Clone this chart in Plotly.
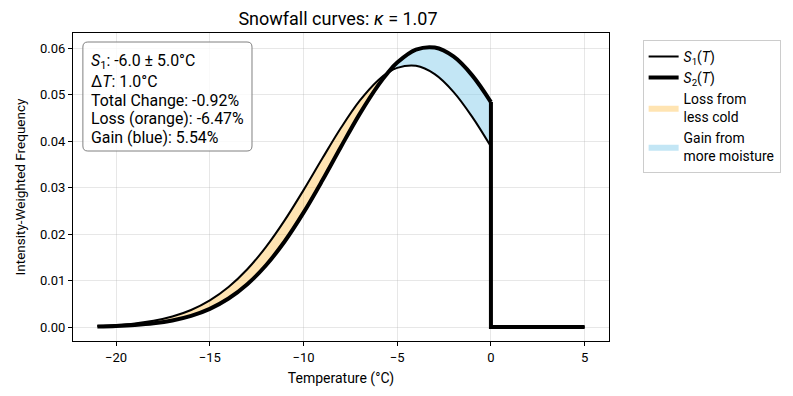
import plotly.graph_objects as go

# ---- data ----
temps = [-21, -20, -19, -18, -17, -16, -15, -14, -13, -12, -11, -10, -9, -8, -7, -6,
         -5.5, -5, -4, -3, -2, -1, 0]
s1_vals = [0.000214, 0.000409, 0.000751, 0.001325, 0.002246, 0.003658, 0.005723,
           0.008603, 0.012426, 0.017244, 0.022991, 0.029453, 0.036250, 0.042867,
           0.048704, 0.053166, 0.054722, 0.055761, 0.056189, 0.054402, 0.050605,
           0.045228, 0.038837]
s2_vals = [0.000115, 0.000229, 0.000438, 0.000804, 0.001418, 0.002403, 0.003914,
           0.006124, 0.009206, 0.013296, 0.018451, 0.024601, 0.031514, 0.038787,
           0.045867, 0.052113, 0.054722, 0.056888, 0.059664, 0.060123, 0.058209,
           0.054147, 0.048394]
crossing_temp = -5.5
warm_temps = [0, 5]          # above freezing: no snowfall
warm_vals = [0, 0]
x_ticks = [-20, -15, -10, -5, 0, 5]
y_ticks = [0.00, 0.01, 0.02, 0.03, 0.04, 0.05, 0.06]
stats_lines = ["<i>S</i><sub>1</sub>: -6.0 ± 5.0°C", "Δ<i>T</i>: 1.0°C",
               "Total Change: -0.92%", "Loss (orange): -6.47%", "Gain (blue): 5.54%"]

FONT = "Roboto, 'DejaVu Sans', sans-serif"

# page body has an 8px default margin -> shrink figure accordingly
OFF = 8
W, H = 793 - OFF, 396 - OFF
PL, PR, PT, PB = 67, 609, 33, 341          # plot area in screen pixels


def px_x(p):
    return (p - PL) / (PR - PL)


def px_y(p):
    return (PB - p) / (PB - PT)


loss_idx = [i for i, t in enumerate(temps) if t <= crossing_temp]
gain_idx = [i for i, t in enumerate(temps) if t >= crossing_temp]

fig = go.Figure()

# orange (loss) region: between S2 (lower) and S1 (upper)
fig.add_trace(go.Scatter(x=[temps[i] for i in loss_idx], y=[s2_vals[i] for i in loss_idx],
                         mode="lines", line=dict(width=0, shape="spline"),
                         showlegend=False, hoverinfo="skip"))
fig.add_trace(go.Scatter(x=[temps[i] for i in loss_idx], y=[s1_vals[i] for i in loss_idx],
                         mode="lines", line=dict(width=0, shape="spline"),
                         fill="tonexty", fillcolor="rgba(255,165,0,0.3)",
                         name="Loss from<br>less cold", legendrank=3, hoverinfo="skip"))
# blue (gain) region
fig.add_trace(go.Scatter(x=[temps[i] for i in gain_idx], y=[s1_vals[i] for i in gain_idx],
                         mode="lines", line=dict(width=0, shape="spline"),
                         showlegend=False, hoverinfo="skip"))
fig.add_trace(go.Scatter(x=[temps[i] for i in gain_idx], y=[s2_vals[i] for i in gain_idx],
                         mode="lines", line=dict(width=0, shape="spline"),
                         fill="tonexty", fillcolor="rgba(135,206,235,0.5)",
                         name="Gain from<br>more moisture", legendrank=4, hoverinfo="skip"))

# S1 curve
fig.add_trace(go.Scatter(x=temps, y=s1_vals, mode="lines",
                         line=dict(color="black", width=2, shape="spline"),
                         name="<i>S</i><sub>1</sub>(<i>T</i>)", legendrank=1))
fig.add_trace(go.Scatter(x=[temps[-1]] + warm_temps, y=[s1_vals[-1]] + warm_vals, mode="lines",
                         line=dict(color="black", width=2), showlegend=False))
# S2 curve
fig.add_trace(go.Scatter(x=temps, y=s2_vals, mode="lines",
                         line=dict(color="black", width=4, shape="spline"),
                         name="<i>S</i><sub>2</sub>(<i>T</i>)", legendrank=2))
fig.add_trace(go.Scatter(x=[temps[-1]] + warm_temps, y=[s2_vals[-1]] + warm_vals, mode="lines",
                         line=dict(color="black", width=4), showlegend=False))

axis_common = dict(showline=True, linecolor="black", linewidth=1, mirror=True,
                   ticks="outside", ticklen=4, tickcolor="black",
                   showgrid=True, gridcolor="rgba(176,176,176,0.3)", gridwidth=1,
                   zeroline=False, tickfont=dict(family=FONT, size=13, color="black"))

fig.update_layout(
    width=W, height=H,
    margin=dict(l=PL - OFF, r=W - (PR - OFF), t=PT - OFF, b=H - (PB - OFF)),
    paper_bgcolor="white", plot_bgcolor="white",
    font=dict(family=FONT, color="black"),
    title=dict(text="Snowfall curves: <i>κ</i> = 1.07", x=((PL + PR) / 2 - OFF) / W, xanchor="center",
               y=1 - (18.5 - OFF) / H, yanchor="middle", font=dict(family=FONT, size=18, color="black")),
    xaxis=dict(range=[-22.3, 6.3], tickvals=x_ticks,
               title=dict(text="Temperature (°C)", font=dict(family=FONT, size=14), standoff=9),
               **axis_common),
    yaxis=dict(range=[-0.00301, 0.06326], tickvals=y_ticks, tickformat=".2f",
               title=dict(text="Intensity-Weighted Frequency", font=dict(family=FONT, size=13.5), standoff=11),
               **axis_common),
    legend=dict(x=px_x(643), y=px_y(40), xanchor="left", yanchor="top", traceorder="normal",
                bgcolor="white", bordercolor="#cccccc", borderwidth=1,
                font=dict(family=FONT, size=13.9, color="black"), tracegroupgap=4),
    showlegend=True,
)

# statistics box (rounded rectangle) with one annotation per line
bx0, bx1, by0, by1 = px_x(77), px_x(248), px_y(151), px_y(42)
rx, ry = 5 / (PR - PL), 5 / (PB - PT)
box_path = (f"M {bx0 + rx},{by0} L {bx1 - rx},{by0} Q {bx1},{by0} {bx1},{by0 + ry} "
            f"L {bx1},{by1 - ry} Q {bx1},{by1} {bx1 - rx},{by1} "
            f"L {bx0 + rx},{by1} Q {bx0},{by1} {bx0},{by1 - ry} "
            f"L {bx0},{by0 + ry} Q {bx0},{by0} {bx0 + rx},{by0} Z")
fig.add_shape(type="path", xref="paper", yref="paper", path=box_path,
              line=dict(color="gray", width=1), fillcolor="rgba(255,255,255,0.8)", layer="above")

line_centers = [61, 81.5, 100, 118.5, 137.5]
for txt, cy in zip(stats_lines, line_centers):
    fig.add_annotation(xref="paper", yref="paper", x=px_x(83), y=px_y(cy),
                       xanchor="left", yanchor="middle", text=txt, showarrow=False,
                       font=dict(family=FONT, size=15.9, color="black"))

fig.write_html("out.html")
